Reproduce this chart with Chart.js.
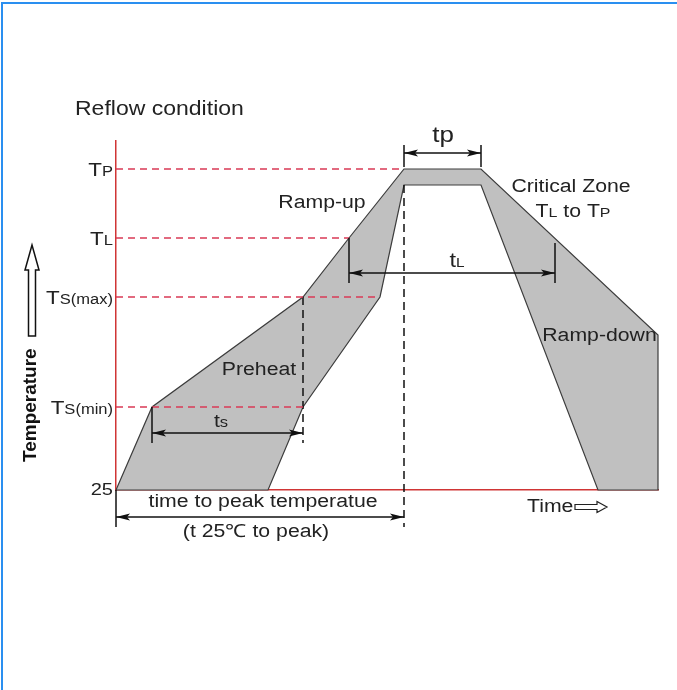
<!DOCTYPE html>
<html>
<head>
<meta charset="utf-8">
<script src="https://cdn.jsdelivr.net/npm/chart.js@4.4.1/dist/chart.umd.min.js"></script>
<style>
  html, body { margin: 0; padding: 0; overflow: hidden; background: #fff; }
  #wrap { position: relative; width: 677px; height: 690px; overflow: hidden; }
  #frame { position: absolute; left: 1px; top: 2px; width: 690px; height: 700px;
           border-top: 2px solid #2a8ff0; border-left: 2px solid #2a8ff0; }
  canvas { position: absolute; left: 0; top: 0; }
</style>
</head>
<body>
<div id="wrap">
  <canvas id="canvas" width="677" height="690"></canvas>
  <div id="frame"></div>
</div>
<script>
// temperature levels on the y axis (diagram units, 25 at the bottom)
var levelTemps = [0, 83, 193, 252, 321];
var levelNames = [['25'], ['T', 'S(min)'], ['T', 'S(max)'], ['T', 'L'], ['T', 'P']];
// where each red guide line stops
var guideEnds = [0, 187, 264, 233, 288];

// outline of the reflow window (outer edge then inner edge)
var profileTime = [0, 36, 187, 233, 288, 365, 542, 542, 482, 365, 288, 264, 187, 152, 0];
var profileTemp = [0, 83, 193, 252, 321, 321, 155, 0, 0, 305, 305, 193, 83, 0, 0];

var timeMax = 542;
var tempMax = 349;

var FONT = '"Liberation Sans", Arial, sans-serif';
var SX = 1.18; // text in the picture is a bit wide

var points = profileTime.map(function (t, i) {
    return { x: t, y: profileTemp[i] };
});

var datasets = [];
for (var i = 1; i < levelTemps.length; i++) {
    datasets.push({
        data: [{ x: 0, y: levelTemps[i] }, { x: guideEnds[i], y: levelTemps[i] }],
        borderColor: '#d93a55',
        borderWidth: 1.5,
        borderDash: [7, 5]
    });
}
// black dashed markers (peak time and end of soak)
datasets.push({
    data: [{ x: 288, y: 305 }, { x: 288, y: -37 }],
    borderColor: '#111', borderWidth: 1.5, borderDash: [8, 5]
});
datasets.push({
    data: [{ x: 187, y: 193 }, { x: 187, y: 47 }],
    borderColor: '#111', borderWidth: 1.5, borderDash: [8, 5]
});
datasets.push({
    data: points,
    borderColor: '#3c3c3c',
    borderWidth: 1.2,
    backgroundColor: '#c0c0c0',
    fill: 'shape'
});

function txt(ctx, parts, x, y, align) {
    var w = 0;
    parts.forEach(function (p) {
        ctx.font = (p[2] || '') + p[1] + 'px ' + FONT;
        w += ctx.measureText(p[0]).width * SX;
    });
    var sx = x;
    if (align === 'right') sx = x - w;
    if (align === 'center') sx = x - w / 2;
    parts.forEach(function (p) {
        ctx.font = (p[2] || '') + p[1] + 'px ' + FONT;
        ctx.save();
        ctx.translate(sx, y);
        ctx.scale(SX, 1);
        ctx.textAlign = 'left';
        ctx.textBaseline = 'alphabetic';
        ctx.fillText(p[0], 0, 0);
        ctx.restore();
        sx += ctx.measureText(p[0]).width * SX;
    });
}

function head(ctx, x, y, dir) {
    ctx.beginPath();
    ctx.moveTo(x, y);
    ctx.lineTo(x - dir * 14, y - 3.5);
    ctx.lineTo(x - dir * 11, y);
    ctx.lineTo(x - dir * 14, y + 3.5);
    ctx.closePath();
    ctx.fill();
}

var diagram = {
    id: 'diagram',
    afterDraw: function (chart) {
        var ctx = chart.ctx;
        var xs = chart.scales.x, ys = chart.scales.y;
        function X(v) { return xs.getPixelForValue(v); }
        function Y(v) { return ys.getPixelForValue(v); }
        ctx.save();
        ctx.fillStyle = '#222';
        ctx.strokeStyle = '#111';
        ctx.lineWidth = 1.5;

        // level labels
        levelTemps.forEach(function (t, i) {
            var n = levelNames[i];
            var parts = n.length === 1 ? [[n[0], 17]] : [[n[0], 19], [n[1], 14]];
            txt(ctx, parts, X(-3), Y(t) + (i === 0 ? 5 : 7), 'right');
        });

        // dimension ticks
        var ticks = [[288, 323, 345], [365, 323, 345], [233, 207, 252], [439, 207, 247],
                     [36, 47, 83], [0, -37, 0]];
        ticks.forEach(function (t) {
            ctx.beginPath();
            ctx.moveTo(X(t[0]), Y(t[1]));
            ctx.lineTo(X(t[0]), Y(t[2]));
            ctx.stroke();
        });
        // double arrows
        var arrows = [[288, 365, 337], [233, 439, 217], [36, 187, 57], [0, 288, -27]];
        arrows.forEach(function (a) {
            var x1 = X(a[0]), x2 = X(a[1]), y = Y(a[2]);
            ctx.beginPath();
            ctx.moveTo(x1, y);
            ctx.lineTo(x2, y);
            ctx.stroke();
            ctx.fillStyle = '#111';
            head(ctx, x1, y, -1);
            head(ctx, x2, y, 1);
        });

        ctx.fillStyle = '#222';
        txt(ctx, [['Reflow condition', 19.5]], X(-41), Y(375), 'left');
        txt(ctx, [['Ramp-up', 18]], X(206), Y(282), 'center');
        txt(ctx, [['Critical Zone', 18]], X(455), Y(298), 'center');
        txt(ctx, [['T', 18], ['L', 13.5], [' to T', 18], ['P', 13.5]], X(457), Y(273), 'center');
        txt(ctx, [['Preheat', 18]], X(143), Y(115), 'center');
        txt(ctx, [['Ramp-down', 18]], X(483.5), Y(149), 'center');
        txt(ctx, [['time to peak temperatue', 18]], X(147), Y(-17), 'center');
        txt(ctx, [['(t 25\u2103 to peak)', 18]], X(140), Y(-47), 'center');
        txt(ctx, [['tp', 22]], X(327), Y(348), 'center');
        txt(ctx, [['t', 20], ['L', 13]], X(341), Y(223), 'center');
        txt(ctx, [['t', 18], ['s', 14]], X(105), Y(63), 'center');
        txt(ctx, [['Time', 18]], X(411), Y(-22), 'left');

        // hollow arrow after "Time"
        var ax = X(459), ay = Y(-17);
        ctx.lineWidth = 1.2;
        ctx.strokeStyle = '#222';
        ctx.fillStyle = '#fff';
        ctx.beginPath();
        ctx.moveTo(ax, ay - 2.5);
        ctx.lineTo(ax + 22, ay - 2.5);
        ctx.lineTo(ax + 22, ay - 5.5);
        ctx.lineTo(ax + 32, ay);
        ctx.lineTo(ax + 22, ay + 5.5);
        ctx.lineTo(ax + 22, ay + 2.5);
        ctx.lineTo(ax, ay + 2.5);
        ctx.closePath();
        ctx.fill();
        ctx.stroke();

        // axis title, rotated
        ctx.save();
        ctx.translate(X(-80), Y(28));
        ctx.rotate(-Math.PI / 2);
        ctx.fillStyle = '#111';
        ctx.font = 'bold 19px ' + FONT;
        ctx.textBaseline = 'alphabetic';
        ctx.fillText('Temperature', 0, 0);
        ctx.restore();

        // hollow up arrow
        var ux = X(-84), tipY = Y(245), baseY = Y(220), botY = Y(154);
        ctx.lineWidth = 1.5;
        ctx.strokeStyle = '#111';
        ctx.beginPath();
        ctx.moveTo(ux - 3.5, botY);
        ctx.lineTo(ux - 3.5, baseY);
        ctx.lineTo(ux - 7, baseY);
        ctx.lineTo(ux, tipY);
        ctx.lineTo(ux + 7, baseY);
        ctx.lineTo(ux + 3.5, baseY);
        ctx.lineTo(ux + 3.5, botY);
        ctx.closePath();
        ctx.fill();
        ctx.stroke();

        ctx.restore();
    }
};

var ctx = document.getElementById('canvas').getContext('2d');
var myChart = new Chart(ctx, {
    type: 'scatter',
    data: { datasets: datasets },
    options: {
        responsive: false,
        animation: false,
        showLine: true,
        layout: { padding: { left: 116, right: 19, top: 141, bottom: 200 } },
        elements: {
            point: { radius: 0, hoverRadius: 0 },
            line: { tension: 0 }
        },
        datasets: { scatter: { clip: false } },
        plugins: {
            legend: { display: false },
            tooltip: { enabled: false }
        },
        scales: {
            x: {
                type: 'linear', min: 0, max: timeMax,
                ticks: { display: false },
                grid: { display: false, drawTicks: false, tickLength: 0 },
                border: { display: true, color: '#d03535', width: 1.5 }
            },
            y: {
                type: 'linear', min: 0, max: tempMax,
                ticks: { display: false },
                grid: { display: false, drawTicks: false, tickLength: 0 },
                border: { display: true, color: '#d03535', width: 1.5 }
            }
        }
    },
    plugins: [diagram]
});
</script>
</body>
</html>
